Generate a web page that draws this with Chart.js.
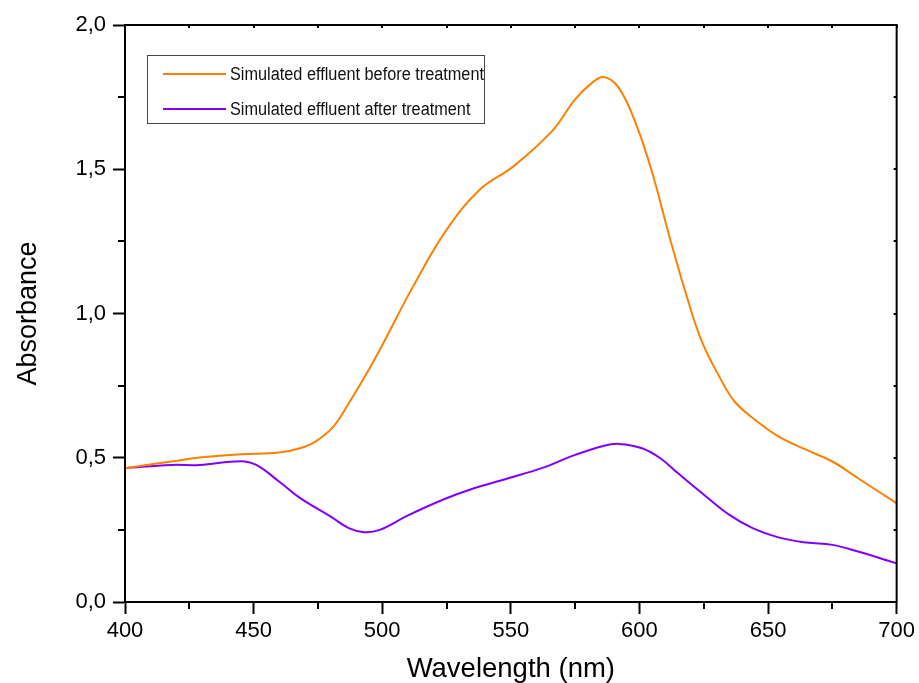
<!DOCTYPE html>
<html>
<head>
<meta charset="utf-8">
<script src="https://cdn.jsdelivr.net/npm/chart.js@4"></script>
<style>
  html, body { margin: 0; padding: 0; background: #fff; }
  canvas { display: block; }
</style>
</head>
<body>
<canvas id="chart" width="919" height="683"></canvas>
<script>
// wavelengths (nm) and absorbance
const beforeWavelength = [400, 418, 429, 445, 460, 468, 474, 481, 487, 494, 500, 512, 525, 538, 551, 566, 575, 581, 586, 592, 599, 605, 612, 618, 624, 631, 637, 645, 654, 665, 675, 685, 700];
const beforeAbsorbance = [0.464, 0.487, 0.501, 0.512, 0.518, 0.533, 0.556, 0.608, 0.689, 0.793, 0.89, 1.094, 1.29, 1.43, 1.51, 1.632, 1.742, 1.795, 1.82, 1.782, 1.649, 1.487, 1.256, 1.071, 0.909, 0.782, 0.695, 0.631, 0.574, 0.527, 0.487, 0.429, 0.342];

const afterWavelength = [400, 418, 429, 445, 451, 460, 468, 480, 487, 493, 499, 510, 524, 534, 549, 562, 575, 586, 592, 601, 608, 615, 626, 635, 644, 654, 665, 675, 685, 700];
const afterAbsorbance = [0.464, 0.475, 0.475, 0.488, 0.475, 0.417, 0.361, 0.296, 0.256, 0.242, 0.25, 0.30, 0.356, 0.389, 0.429, 0.464, 0.51, 0.541, 0.548, 0.533, 0.499, 0.446, 0.365, 0.302, 0.256, 0.224, 0.206, 0.198, 0.175, 0.134];

const seriesLabels = ['Simulated effluent before treatment', 'Simulated effluent after treatment'];
const seriesColors = ['rgb(255, 128, 0)', 'rgb(128, 0, 255)'];

const xMajor = [400, 450, 500, 550, 600, 650, 700];
const xMinor = [425, 475, 525, 575, 625, 675];
const yMajor = [0, 0.5, 1.0, 1.5, 2.0];
const yMinor = [0.25, 0.75, 1.25, 1.75];

const FONT = "'Liberation Sans', Arial, sans-serif";

function toPoints(xs, ys) {
  return xs.map((x, i) => ({ x, y: ys[i] }));
}

// minor ticks, mirrored ticks on top/right, frame, and boxed legend
const decorations = {
  id: 'decorations',
  afterDraw(chart) {
    const { ctx, chartArea: a, scales: { x, y } } = chart;
    ctx.save();
    ctx.strokeStyle = '#000';
    ctx.lineWidth = 2;
    ctx.strokeRect(a.left, a.top, a.right - a.left, a.bottom - a.top);

    ctx.beginPath();
    xMinor.forEach((v) => {
      const px = Math.round(x.getPixelForValue(v));
      ctx.moveTo(px, a.bottom);
      ctx.lineTo(px, a.bottom + 7);
    });
    yMinor.forEach((v) => {
      const py = Math.round(y.getPixelForValue(v));
      ctx.moveTo(a.left, py);
      ctx.lineTo(a.left - 7, py);
    });
    xMajor.concat(xMinor).forEach((v) => {
      const px = Math.round(x.getPixelForValue(v));
      ctx.moveTo(px, a.top);
      ctx.lineTo(px, a.top + 3);
    });
    yMajor.concat(yMinor).forEach((v) => {
      const py = Math.round(y.getPixelForValue(v));
      ctx.moveTo(a.right, py);
      ctx.lineTo(a.right - 3, py);
    });
    ctx.stroke();

    // legend box
    ctx.lineWidth = 1;
    ctx.strokeStyle = '#444';
    ctx.strokeRect(147.5, 55.5, 337, 68);
    const rows = [74, 109];
    chart.data.datasets.forEach((ds, i) => {
      ctx.strokeStyle = ds.borderColor;
      ctx.lineWidth = 2;
      ctx.beginPath();
      ctx.moveTo(163, rows[i]);
      ctx.lineTo(226, rows[i]);
      ctx.stroke();
    });
    ctx.font = '18px ' + FONT;
    ctx.fillStyle = '#111';
    ctx.textBaseline = 'middle';
    const squeeze = 254 / ctx.measureText(seriesLabels[0]).width;
    chart.data.datasets.forEach((ds, i) => {
      ctx.save();
      ctx.translate(230, rows[i] + 1);
      ctx.scale(squeeze, 1);
      ctx.fillText(ds.label, 0, 0);
      ctx.restore();
    });
    ctx.restore();
  },
};

const tickLabel = (v) => v.toFixed(1).replace('.', ',');

new Chart(document.getElementById('chart'), {
  type: 'line',
  data: {
    datasets: [{
      label: seriesLabels[0],
      data: toPoints(beforeWavelength, beforeAbsorbance),
      borderColor: seriesColors[0],
      borderWidth: 2,
      pointRadius: 0,
      tension: 0.4,
    }, {
      label: seriesLabels[1],
      data: toPoints(afterWavelength, afterAbsorbance),
      borderColor: seriesColors[1],
      borderWidth: 2,
      pointRadius: 0,
      tension: 0.4,
    }],
  },
  options: {
    responsive: false,
    animation: false,
    layout: { padding: { top: 25, right: 21, left: 0, bottom: 0 } },
    plugins: { legend: { display: false }, tooltip: { enabled: false } },
    scales: {
      x: {
        type: 'linear',
        min: 400,
        max: 700,
        afterFit(scale) { scale.height = 81; },
        afterBuildTicks(scale) { scale.ticks = xMajor.map((v) => ({ value: v })); },
        ticks: { color: '#000', font: { family: FONT, size: 22 }, padding: 4, maxRotation: 0 },
        grid: { drawOnChartArea: false, tickLength: 12, tickWidth: 2, tickColor: '#000' },
        border: { color: '#000', width: 2 },
        title: {
          display: true,
          text: 'Wavelength (nm)',
          color: '#000',
          font: { family: FONT, size: 27.5, lineHeight: 1 },
          padding: { bottom: 0 },
        },
      },
      y: {
        min: 0,
        max: 2,
        afterFit(scale) { scale.width = 125; },
        afterBuildTicks(scale) { scale.ticks = yMajor.map((v) => ({ value: v })); },
        ticks: { color: '#000', font: { family: FONT, size: 22 }, padding: 7, callback: tickLabel },
        grid: { drawOnChartArea: false, tickLength: 12, tickWidth: 2, tickColor: '#000' },
        border: { color: '#000', width: 2 },
        title: {
          display: true,
          text: 'Absorbance',
          color: '#000',
          font: { family: FONT, size: 27, lineHeight: 1.2 },
          padding: { top: 12 },
        },
      },
    },
  },
  plugins: [decorations],
});
</script>
</body>
</html>
